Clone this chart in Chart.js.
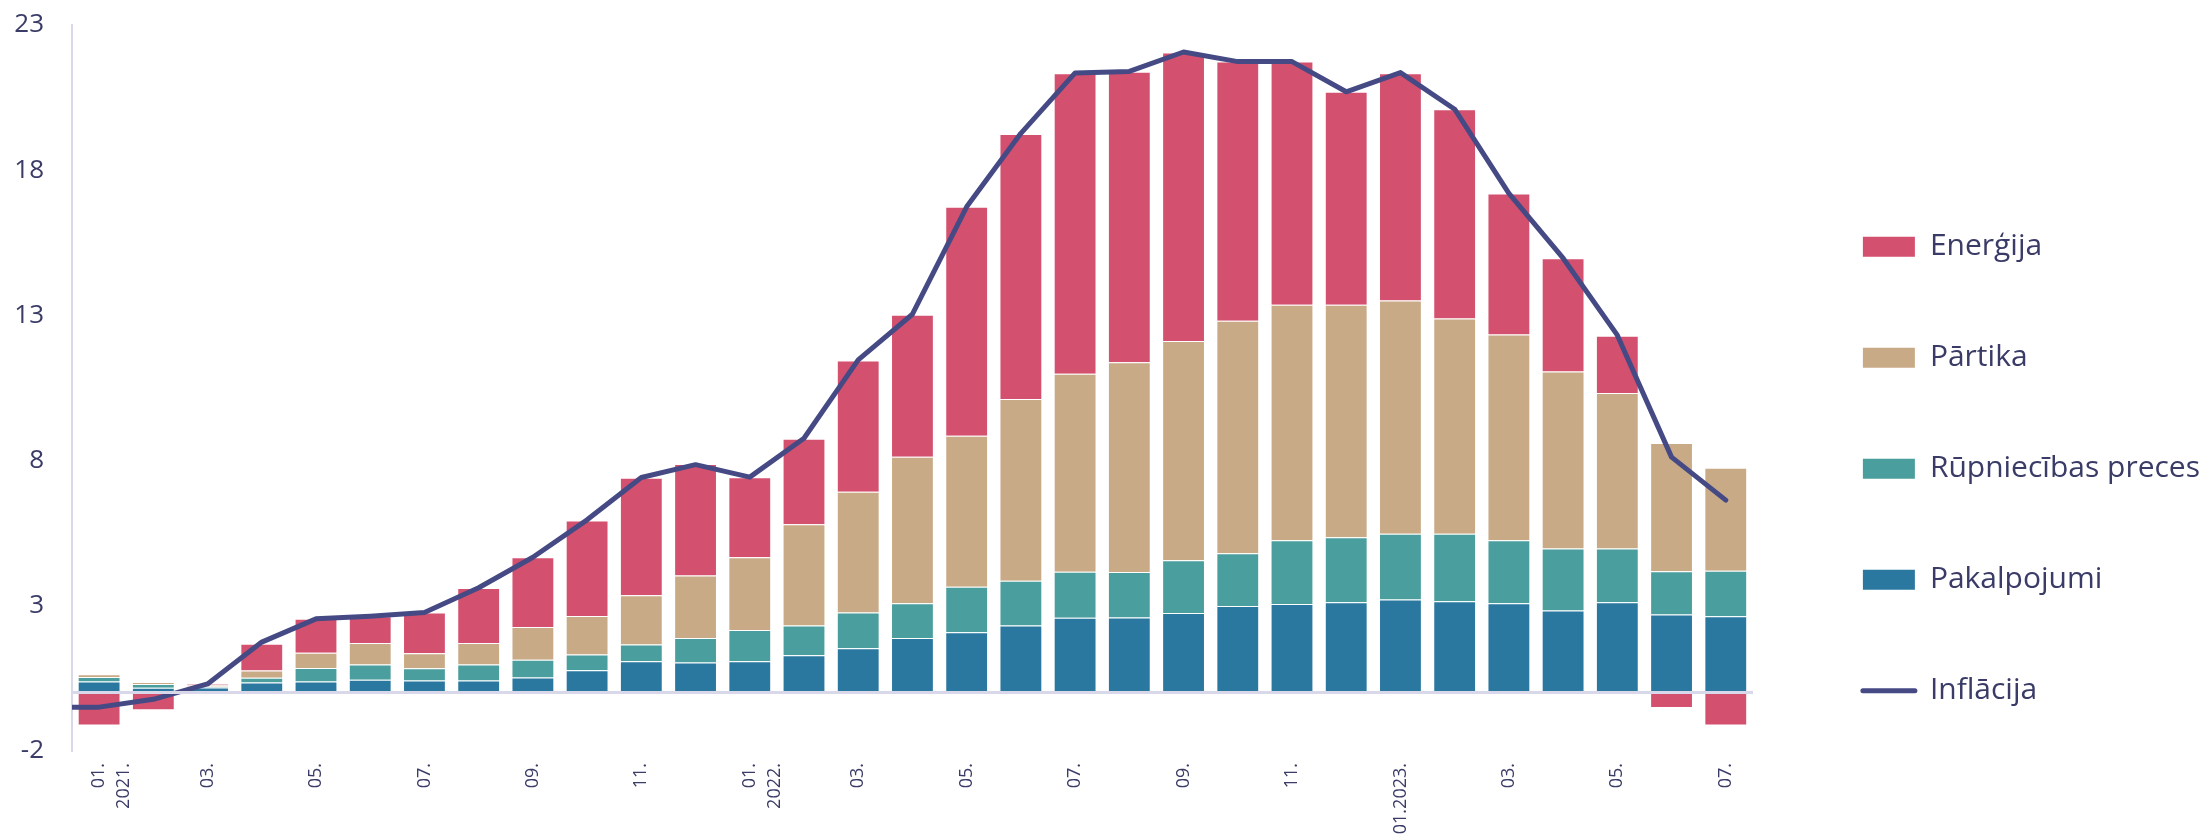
<!DOCTYPE html>
<html>
<head>
<meta charset="utf-8">
<script src="https://cdn.jsdelivr.net/npm/chart.js@4.4.1/dist/chart.umd.min.js"></script>
<style>
  body { margin: 0; background: #fff; }
  #wrap { width: 2212px; height: 840px; position: relative; }
</style>
</head>
<body>
<div id="wrap"><canvas id="inflChart"></canvas></div>
<script>
// x axis labels, 01.2021 - 07.2023 (only odd months are labelled)
var tickLabels = [['01.', '2021.'], '', '03.', '', '05.', '', '07.', '', '09.', '', '11.', '',
    ['01.', '2022.'], '', '03.', '', '05.', '', '07.', '', '09.', '', '11.', '',
    '01.2023.', '', '03.', '', '05.', '', '07.'];

// contributions to annual inflation, percentage points
var pakalpojumi = [0.39, 0.18, 0.19, 0.36, 0.39, 0.45, 0.43, 0.43, 0.53, 0.78, 1.09, 1.05, 1.09, 1.30, 1.54, 1.89,
    2.09, 2.32, 2.59, 2.60, 2.75, 2.99, 3.06, 3.12, 3.22, 3.16, 3.09, 2.84, 3.12, 2.70, 2.64];
var rupniecibasPreces = [0.16, 0.13, 0.03, 0.16, 0.47, 0.53, 0.42, 0.55, 0.61, 0.54, 0.58, 0.84, 1.08, 1.02, 1.23, 1.20,
    1.57, 1.54, 1.58, 1.56, 1.82, 1.82, 2.20, 2.24, 2.26, 2.32, 2.17, 2.13, 1.85, 1.49, 1.57];
var partika = [0.09, 0.07, 0.06, 0.25, 0.52, 0.74, 0.52, 0.74, 1.13, 1.33, 1.69, 2.15, 2.50, 3.49, 4.16, 5.04,
    5.20, 6.26, 6.82, 7.23, 7.55, 8.01, 8.11, 8.01, 8.03, 7.41, 7.08, 6.10, 5.36, 4.42, 3.54];
var energija = [-1.12, -0.60, 0.03, 0.92, 1.17, 0.92, 1.40, 1.89, 2.40, 3.29, 4.05, 3.84, 2.76, 2.94, 4.52, 4.89,
    7.88, 9.13, 10.35, 10.00, 9.93, 8.92, 8.37, 7.33, 7.83, 7.21, 4.86, 3.90, 1.97, -0.52, -1.12];
// annual inflation, %; the line also starts from 12.2020 (cut at the axis)
var inflacijaPrev = -0.5;
var inflacija = [-0.49, -0.22, 0.31, 1.75, 2.55, 2.64, 2.77, 3.62, 4.67, 5.96, 7.42, 7.86, 7.43, 8.77, 11.47, 13.04,
    16.74, 19.27, 21.35, 21.40, 22.07, 21.74, 21.74, 20.70, 21.36, 20.10, 17.20, 14.97, 12.32, 8.12, 6.64];

var textColor = '#3a3b66';
var axisColor = '#d8d8ea';
var legendGap = 110;   // space between plot and legend symbols
Chart.defaults.font.family = "'Open Sans', sans-serif";
Chart.defaults.color = textColor;

// line points on a hidden linear axis so the 12.2020 point can sit left of the plot
var inflPoints = [{x: -1, y: inflacijaPrev}];
for (var i = 0; i < inflacija.length; i++) {
    inflPoints.push({x: i, y: inflacija[i]});
}

function barSet(label, values, color) {
    return {
        type: 'bar',
        label: label,
        data: values,
        backgroundColor: color,
        borderColor: 'rgba(255,255,255,0.35)',
        borderWidth: 1,
        categoryPercentage: 1,
        barPercentage: 0.79,
        grouped: false,
        xAxisID: 'x',
        yAxisID: 'y'
    };
}

// legend order (dataset indexes): top of the stack first, line last
var legendOrder = [3, 2, 1, 0, 4];

// moves the legend symbols right, leaving a wider gap after the plot
var legendShift = {
    id: 'legendShift',
    beforeDraw: function (ch) {
        var lg = ch.legend;
        if (!lg || lg._shifted) return;
        var origDraw = lg.draw;
        lg.draw = function () {
            var dx = legendGap - this.options.labels.padding;
            this.ctx.save();
            this.ctx.translate(dx, 0);
            origDraw.apply(this, arguments);
            this.ctx.restore();
        };
        lg._shifted = true;
    }
};

var ctx = document.getElementById('inflChart').getContext('2d');
var chart = new Chart(ctx, {
    data: {
        labels: tickLabels,
        datasets: [
            barSet('Pakalpojumi', pakalpojumi, '#2a77a0'),
            barSet('Rūpniecības preces', rupniecibasPreces, '#4a9e9d'),
            barSet('Pārtika', partika, '#c9aa87'),
            barSet('Enerģija', energija, '#d4506f'),
            {
                type: 'line',
                label: 'Inflācija',
                data: inflPoints,
                order: -1,
                borderColor: '#454a85',
                backgroundColor: '#454a85',
                borderWidth: 5,
                borderCapStyle: 'round',
                borderJoinStyle: 'round',
                pointRadius: 0,
                tension: 0,
                xAxisID: 'xl',
                yAxisID: 'y'
            }
        ]
    },
    plugins: [legendShift],
    options: {
        responsive: true,
        maintainAspectRatio: false,
        animation: false,
        layout: {padding: {left: 14, top: 25, bottom: 0, right: 31}},
        plugins: {
            tooltip: {enabled: false},
            legend: {
                position: 'right',
                title: {display: true, text: '', padding: {top: 0, bottom: 58}, font: {size: 12}},
                labels: {
                    usePointStyle: true,
                    pointStyleWidth: 52,
                    boxHeight: 20,
                    padding: 81,
                    color: textColor,
                    font: {size: 30},
                    generateLabels: function (ch) {
                        var items = Chart.defaults.plugins.legend.labels.generateLabels(ch);
                        var out = [];
                        legendOrder.forEach(function (idx) {
                            var it = items.filter(function (x) { return x.datasetIndex === idx; })[0];
                            if (!it) return;
                            if (idx === 4) {
                                it.pointStyle = 'line';
                                it.lineWidth = 5;
                                it.lineCap = 'round';
                            } else {
                                it.pointStyle = 'rect';
                                it.lineWidth = 0;
                            }
                            out.push(it);
                        });
                        return out;
                    }
                }
            }
        },
        scales: {
            x: {
                type: 'category',
                stacked: true,
                offset: true,
                grid: {display: false, drawTicks: false},
                border: {display: false},
                ticks: {
                    autoSkip: false,
                    minRotation: 90,
                    maxRotation: 90,
                    padding: 12,
                    color: textColor,
                    font: {size: 18, lineHeight: 1.4}
                },
                afterFit: function (scale) { scale.height = 89; }
            },
            x0: {
                axis: 'x',
                type: 'category',
                position: {y: 0},
                offset: true,
                grid: {display: false, drawTicks: false},
                ticks: {display: false},
                border: {display: true, color: axisColor, width: 3, z: 1}
            },
            xl: {
                type: 'linear',
                display: false,
                offset: false,
                min: -0.5,
                max: inflacija.length - 0.5
            },
            y: {
                type: 'linear',
                stacked: true,
                min: -2,
                max: 23,
                grid: {display: false, drawTicks: false},
                border: {display: true, color: axisColor, width: 2},
                ticks: {
                    stepSize: 5,
                    padding: 28,
                    color: textColor,
                    font: {size: 26}
                },
                afterFit: function (scale) {
                    scale.width = 58;
                    scale.paddingTop = 0;
                    scale.paddingBottom = 0;
                }
            }
        }
    }
});
</script>
</body>
</html>
